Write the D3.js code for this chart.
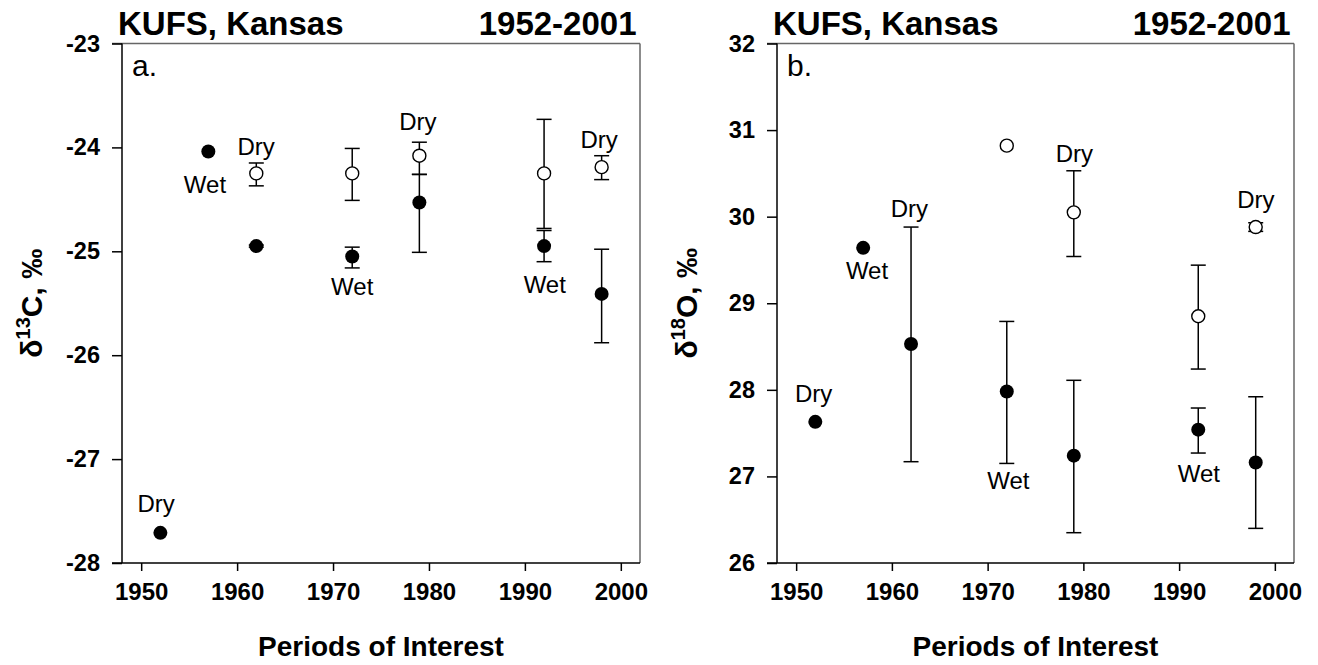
<!DOCTYPE html>
<html>
<head>
<meta charset="utf-8">
<script src="https://cdn.jsdelivr.net/npm/d3@7"></script>
<style>
  html, body { margin: 0; padding: 0; background: #fff; }
  svg { display: block; font-family: Arial, "Liberation Sans", sans-serif; }
</style>
</head>
<body>
<svg id="chart" width="1318" height="665"></svg>
<script>
// ---------- data ----------
const xTicks = [1950, 1960, 1970, 1980, 1990, 2000];
const titleLeft = "KUFS, Kansas";
const titleRight = "1952-2001";
const xTitle = "Periods of Interest";

// Panel a: δ13C
const aYTicks = [-28, -27, -26, -25, -24, -23];
const aFilledYears = [1952, 1957, 1962, 1972, 1979, 1992, 1998];
const aFilledMean  = [-27.71, -24.04, -24.95, -25.05, -24.53, -24.95, -25.41];
const aFilledHi    = [null, null, -24.94, -24.96, -24.26, -24.80, -24.98];
const aFilledLo    = [null, null, -24.96, -25.16, -25.01, -25.10, -25.88];
const aOpenYears = [1962, 1972, 1979, 1992, 1998];
const aOpenMean  = [-24.25, -24.25, -24.08, -24.25, -24.19];
const aOpenHi    = [-24.15, -24.01, -23.95, -23.73, -24.08];
const aOpenLo    = [-24.37, -24.51, -24.26, -24.78, -24.31];
const aLabelText  = ["Wet", "Dry", "Wet", "Dry", "Wet", "Dry", "Dry"];
const aLabelYear  = [1956.65, 1961.98, 1972.0, 1978.84, 1992.07, 1997.74, 1951.55];
const aLabelValue = [-24.44, -24.07, -25.42, -23.83, -25.40, -24.01, -27.51];

// Panel b: δ18O
const bYTicks = [26, 27, 28, 29, 30, 31, 32];
const bFilledYears = [1952, 1957, 1962, 1972, 1979, 1992, 1998];
const bFilledMean  = [27.63, 29.64, 28.53, 27.98, 27.24, 27.54, 27.16];
const bFilledHi    = [null, null, 29.88, 28.79, 28.11, 27.79, 27.92];
const bFilledLo    = [null, null, 27.17, 27.15, 26.35, 27.27, 26.40];
const bOpenYears = [1972, 1979, 1992, 1998];
const bOpenMean  = [30.82, 30.05, 28.85, 29.88];
const bOpenHi    = [null, 30.53, 29.44, 29.93];
const bOpenLo    = [null, 29.54, 28.24, 29.83];
const bLabelText  = ["Dry", "Wet", "Dry", "Dry", "Dry", "Wet", "Wet"];
const bLabelYear  = [1961.82, 1957.4, 1979.06, 1998.01, 1951.83, 1972.16, 1992.07];
const bLabelValue = [30.0, 29.28, 30.63, 30.10, 27.86, 26.85, 26.94];

// ---------- drawing ----------
const svg = d3.select("#chart");

function series(years, mean, hi, lo) {
  return years.map((y, i) => ({ year: y, v: mean[i], hi: hi[i], lo: lo[i] }));
}

function panel(cfg) {
  const { left, right, top, bottom } = cfg;
  const g = svg.append("g");
  const x = d3.scaleLinear().domain([1948, 2002]).range([left, right]);
  const y = d3.scaleLinear().domain(cfg.yDomain).range([bottom, top]);

  // frame: top & right (grey)
  g.append("line").attr("x1", left - 10).attr("x2", right).attr("y1", top).attr("y2", top)
    .attr("stroke", "#666").attr("stroke-width", 1.5);
  g.append("line").attr("x1", right).attr("x2", right).attr("y1", top).attr("y2", bottom)
    .attr("stroke", "#666").attr("stroke-width", 1.5);

  // y axis
  const yAxis = d3.axisLeft(y).tickValues(cfg.yTicks).tickSize(10).tickPadding(12)
    .tickFormat(d3.format("d"));
  const ya = g.append("g").attr("transform", `translate(${left},0)`).call(yAxis);
  ya.select(".domain").remove();
  ya.append("line").attr("x1", 0).attr("x2", 0).attr("y1", top).attr("y2", bottom)
    .attr("stroke", "#000").attr("stroke-width", 1.5);
  ya.selectAll(".tick line").attr("stroke", "#000").attr("stroke-width", 1.5);
  ya.selectAll(".tick text").attr("font-size", 23.5).attr("font-weight", "bold")
    .attr("fill", "#000").text(d => d < 0 ? "-" + Math.abs(d) : d);

  // x axis
  const xAxis = d3.axisBottom(x).tickValues(xTicks).tickSize(8).tickPadding(12)
    .tickFormat(d3.format("d"));
  const xa = g.append("g").attr("transform", `translate(0,${bottom})`).call(xAxis);
  xa.select(".domain").remove();
  xa.append("line").attr("x1", left - 10).attr("x2", right).attr("y1", 0).attr("y2", 0)
    .attr("stroke", "#000").attr("stroke-width", 1.5);
  xa.selectAll(".tick line").attr("stroke", "#000").attr("stroke-width", 1.5);
  xa.selectAll(".tick text").attr("font-size", 24).attr("font-weight", "bold").attr("fill", "#000");

  // titles
  g.append("text").attr("x", left - 4).attr("y", 35).attr("font-size", 33)
    .attr("font-weight", "bold").text(titleLeft);
  g.append("text").attr("x", right - 3.5).attr("y", 35).attr("font-size", 33)
    .attr("font-weight", "bold").attr("text-anchor", "end").text(titleRight);
  g.append("text").attr("x", left + 10).attr("y", 76).attr("font-size", 30).text(cfg.letter);

  // axis titles
  g.append("text").attr("x", (left + right) / 2).attr("y", 656).attr("text-anchor", "middle")
    .attr("font-size", 28).attr("font-weight", "bold").text(xTitle);
  const yt = g.append("text")
    .attr("transform", `translate(${left - 80},${(top + bottom) / 2}) rotate(-90)`)
    .attr("text-anchor", "middle").attr("font-size", 30).attr("font-weight", "bold");
  yt.append("tspan").text("δ");
  yt.append("tspan").attr("font-size", 20).attr("dy", -12).text(cfg.iso);
  yt.append("tspan").attr("dy", 12).text(cfg.el + ", ‰");

  // error bars + points
  const cap = 7.5;
  function draw(data) {
    const eb = data.filter(d => d.hi != null);
    const ge = g.append("g").attr("stroke", "#000").attr("stroke-width", 1.5);
    ge.selectAll("line.v").data(eb).join("line")
      .attr("x1", d => x(d.year)).attr("x2", d => x(d.year))
      .attr("y1", d => y(d.hi)).attr("y2", d => y(d.lo));
    ge.selectAll("line.h").data(eb).join("line")
      .attr("x1", d => x(d.year) - cap).attr("x2", d => x(d.year) + cap)
      .attr("y1", d => y(d.hi)).attr("y2", d => y(d.hi));
    ge.selectAll("line.l").data(eb).join("line")
      .attr("x1", d => x(d.year) - cap).attr("x2", d => x(d.year) + cap)
      .attr("y1", d => y(d.lo)).attr("y2", d => y(d.lo));
  }
  function pts(data, filled) {
    g.append("g").selectAll("circle").data(data).join("circle")
      .attr("cx", d => x(d.year)).attr("cy", d => y(d.v))
      .attr("r", filled ? 7 : 6.5)
      .attr("fill", filled ? "#000" : "#fff")
      .attr("stroke", "#000").attr("stroke-width", filled ? 0 : 1.4);
  }
  draw(cfg.filled);
  draw(cfg.open);
  pts(cfg.filled, true);
  pts(cfg.open, false);

  // annotations
  g.append("g").selectAll("text").data(cfg.labels).join("text")
    .attr("x", d => x(d.year)).attr("y", d => y(d.v))
    .attr("text-anchor", "middle").attr("font-size", 24).text(d => d.t);
}

panel({
  left: 122, right: 640, top: 43.5, bottom: 563,
  yDomain: [-28, -23], yTicks: aYTicks, letter: "a.", iso: "13", el: "C",
  filled: series(aFilledYears, aFilledMean, aFilledHi, aFilledLo),
  open: series(aOpenYears, aOpenMean, aOpenHi, aOpenLo),
  labels: aLabelText.map((t, i) => ({ t, year: aLabelYear[i], v: aLabelValue[i] }))
});
panel({
  left: 777, right: 1294, top: 43.5, bottom: 563,
  yDomain: [26, 32], yTicks: bYTicks, letter: "b.", iso: "18", el: "O",
  filled: series(bFilledYears, bFilledMean, bFilledHi, bFilledLo),
  open: series(bOpenYears, bOpenMean, bOpenHi, bOpenLo),
  labels: bLabelText.map((t, i) => ({ t, year: bLabelYear[i], v: bLabelValue[i] }))
});
</script>
</body>
</html>
